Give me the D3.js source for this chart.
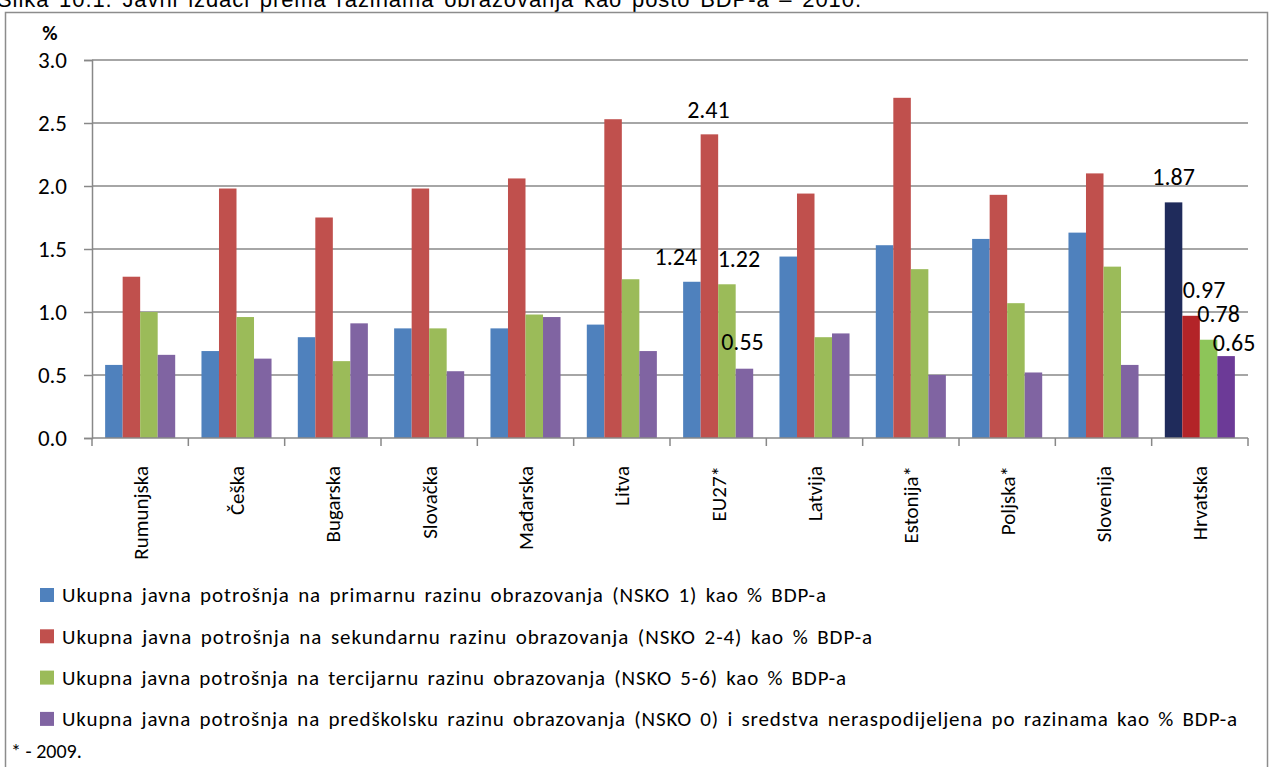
<!DOCTYPE html>
<html>
<head>
<meta charset="utf-8">
<script src="https://cdn.jsdelivr.net/npm/d3@7"></script>
<style>
  body { margin: 0; background: #fff; }
  svg { display: block; font-family: Carlito, Calibri, Lato, sans-serif; }
</style>
</head>
<body>
<div id="chart"></div>
<script>
// data
const categories = ["Rumunjska", "Češka", "Bugarska", "Slovačka", "Mađarska", "Litva",
    "EU27*", "Latvija", "Estonija*", "Poljska*", "Slovenija", "Hrvatska"];

const primarna   = [0.58, 0.69, 0.80, 0.87, 0.87, 0.90, 1.24, 1.44, 1.53, 1.58, 1.63, 1.87];
const sekundarna = [1.28, 1.98, 1.75, 1.98, 2.06, 2.53, 2.41, 1.94, 2.70, 1.93, 2.10, 0.97];
const tercijarna = [1.00, 0.96, 0.61, 0.87, 0.98, 1.26, 1.22, 0.80, 1.34, 1.07, 1.36, 0.78];
const predskolska = [0.66, 0.63, 0.91, 0.53, 0.96, 0.69, 0.55, 0.83, 0.50, 0.52, 0.58, 0.65];

const seriesNames = [
    "Ukupna javna potrošnja na primarnu razinu obrazovanja (NSKO 1) kao % BDP-a",
    "Ukupna javna potrošnja na sekundarnu razinu obrazovanja (NSKO 2-4) kao % BDP-a",
    "Ukupna javna potrošnja na tercijarnu razinu obrazovanja (NSKO 5-6) kao % BDP-a",
    "Ukupna javna potrošnja na predškolsku razinu obrazovanja (NSKO 0) i sredstva neraspodijeljena po razinama kao % BDP-a"
];
const yTicks = [0, 0.5, 1.0, 1.5, 2.0, 2.5, 3.0];

// which bars carry a value label (category, series)
const labelled = [
    {cat: "EU27*", s: 0}, {cat: "EU27*", s: 1}, {cat: "EU27*", s: 2}, {cat: "EU27*", s: 3},
    {cat: "Hrvatska", s: 0}, {cat: "Hrvatska", s: 1}, {cat: "Hrvatska", s: 2}, {cat: "Hrvatska", s: 3}
];

const seriesValues = [primarna, sekundarna, tercijarna, predskolska];
const colors = ["#4F81BD", "#C0504D", "#9BBB59", "#8064A2"];
const hrColors = ["#1F2B5B", "#B32428", "#8DC559", "#6C3A97"];
// nudges for the value labels so they sit like in the original
const labelNudge = [[-16, -25], [-1, -25], [12, -26], [-2, -27], [0, -26], [13, -26], [10, -26], [8, -14]];

const W = 1270, H = 767;
const margin = {top: 60, left: 92, right: 22};
const plotBottom = 438;

const svg = d3.select("#chart").append("svg")
    .attr("width", W)
    .attr("height", H);

// widen a text (mostly between letters, the rest between words) so it ends at a given width
function fitWords(sel, targetWidth) {
    sel.each(function(d, i) {
        const w = typeof targetWidth === "function" ? targetWidth(d, i) : targetWidth;
        const t = d3.select(this);
        const natural = this.getComputedTextLength();
        const n = this.textContent.length;
        const extra = w - natural;
        if (extra <= 0) return;
        t.attr("letter-spacing", (extra * 0.7 / n).toFixed(2));
        const afterLetters = this.getComputedTextLength();
        const gaps = (this.textContent.match(/ /g) || []).length;
        if (gaps > 0) t.attr("word-spacing", ((w - afterLetters) / gaps).toFixed(2));
    });
}

// title, cut at the top edge
svg.append("text")
    .attr("x", -3)
    .attr("y", 7)
    .attr("font-size", 22)
    .attr("font-family", "'Liberation Sans', Arial, sans-serif")
    .attr("fill", "#000")
    .text("Slika 10.1. Javni izdaci prema razinama obrazovanja kao posto BDP-a – 2010.")
    .call(fitWords, 865);

// outer frame
svg.append("rect")
    .attr("x", 5.5).attr("y", 12.5)
    .attr("width", 1262).attr("height", 770)
    .attr("fill", "none")
    .attr("stroke", "#8c8c8c")
    .attr("stroke-width", 1.5);

const x = d3.scaleBand()
    .domain(categories)
    .range([margin.left, W - margin.right]);

const xInner = d3.scaleBand()
    .domain(d3.range(4))
    .range([0, x.bandwidth()])
    .paddingOuter(0.75);

const y = d3.scaleLinear()
    .domain([0, 3])
    .range([plotBottom, margin.top]);

// gridlines
svg.append("g")
    .selectAll("line")
    .data(yTicks.filter(d => d > 0))
    .join("line")
    .attr("x1", margin.left).attr("x2", W - margin.right)
    .attr("y1", d => y(d)).attr("y2", d => y(d))
    .attr("stroke", "#888")
    .attr("stroke-width", 1.5);

// y axis
const yAxisG = svg.append("g")
    .attr("transform", "translate(" + margin.left + ",0)")
    .call(d3.axisLeft(y).tickValues(yTicks).tickFormat(d3.format(".1f")).tickSize(8).tickPadding(17));
yAxisG.select(".domain").attr("stroke", "#888").attr("stroke-width", 1.5);
yAxisG.selectAll(".tick line").attr("stroke", "#888").attr("stroke-width", 1.5);
yAxisG.selectAll(".tick text")
    .attr("font-size", 23)
    .attr("fill", "#000")
    .attr("font-family", "Carlito, Calibri, Lato, sans-serif");

svg.append("text")
    .attr("x", 50).attr("y", 40)
    .attr("text-anchor", "middle")
    .attr("font-size", 21)
    .attr("font-weight", "bold")
    .text("%");

// bars
const groups = svg.append("g")
    .selectAll("g")
    .data(categories)
    .join("g")
    .attr("transform", d => "translate(" + x(d) + ",0)");

groups.selectAll("rect")
    .data((c, i) => seriesValues.map((vals, s) => ({cat: c, s: s, v: vals[i]})))
    .join("rect")
    .attr("x", d => xInner(d.s))
    .attr("width", xInner.bandwidth())
    .attr("y", d => y(d.v))
    .attr("height", d => plotBottom - y(d.v))
    .attr("fill", d => d.cat === "Hrvatska" ? hrColors[d.s] : colors[d.s]);

// x axis
svg.append("line")
    .attr("x1", margin.left).attr("x2", W - margin.right)
    .attr("y1", plotBottom).attr("y2", plotBottom)
    .attr("stroke", "#888").attr("stroke-width", 1.5);

const boundaries = categories.map(c => x(c)).concat([x(categories[categories.length - 1]) + x.bandwidth()]);
svg.append("g")
    .selectAll("line")
    .data(boundaries)
    .join("line")
    .attr("x1", d => d).attr("x2", d => d)
    .attr("y1", plotBottom).attr("y2", plotBottom + 8)
    .attr("stroke", "#888").attr("stroke-width", 1.5);

svg.append("g")
    .selectAll("text")
    .data(categories)
    .join("text")
    .attr("transform", d => "translate(" + (x(d) + x.bandwidth() / 2) + ",466) rotate(-90)")
    .attr("text-anchor", "end")
    .attr("dy", "0.35em")
    .attr("font-size", 21)
    .text(d => d);

// value labels
svg.append("g")
    .selectAll("text")
    .data(labelled)
    .join("text")
    .attr("x", (d, i) => x(d.cat) + xInner(d.s) + xInner.bandwidth() / 2 + labelNudge[i][0])
    .attr("y", (d, i) => y(seriesValues[d.s][categories.indexOf(d.cat)]) + labelNudge[i][1])
    .attr("text-anchor", "middle")
    .attr("dy", "0.35em")
    .attr("font-size", 24)
    .text(d => seriesValues[d.s][categories.indexOf(d.cat)].toFixed(2));

// legend
const legendEnds = [827, 873, 847, 1238];
const legend = svg.append("g")
    .selectAll("g")
    .data(seriesNames)
    .join("g")
    .attr("transform", (d, i) => "translate(40," + (595 + i * 41.3) + ")");

legend.append("rect")
    .attr("x", 0).attr("y", -7)
    .attr("width", 14).attr("height", 14)
    .attr("fill", (d, i) => colors[i]);

legend.append("text")
    .attr("x", 22)
    .attr("dy", "0.35em")
    .attr("font-size", 21)
    .text(d => d)
    .call(fitWords, (d, i) => legendEnds[i] - 62);

svg.append("text")
    .attr("x", 11).attr("y", 758)
    .attr("font-size", 20)
    .text("* - 2009.");
</script>
</body>
</html>
